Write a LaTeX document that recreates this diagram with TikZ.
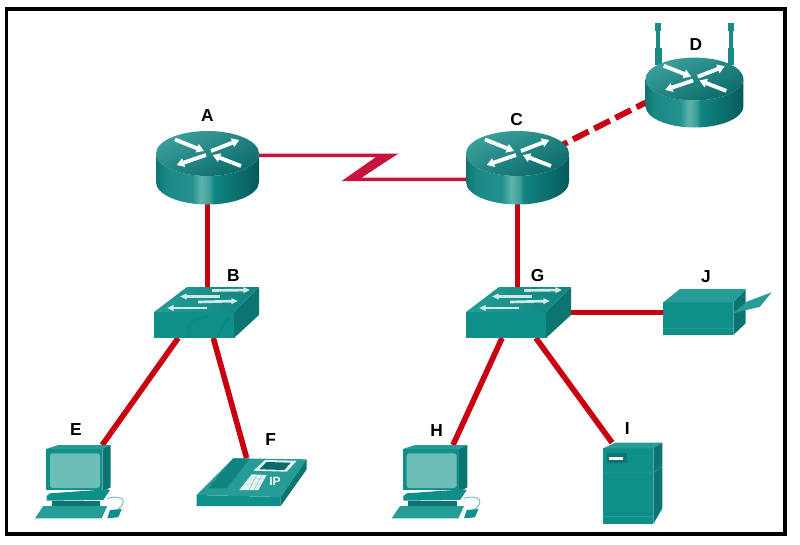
\documentclass[tikz,border=0pt]{standalone}
\usepackage{fontspec}
\setmainfont{Liberation Sans}
\usetikzlibrary{arrows.meta,fit,calc}
\definecolor{linkred}{HTML}{C80010}
\definecolor{serialred}{HTML}{C8143C}
\definecolor{tealA}{HTML}{0E7471}
\definecolor{tealB}{HTML}{1A8A86}
\definecolor{tealC}{HTML}{23918D}
\definecolor{tealHi}{HTML}{5DB3AD}
\definecolor{tealD}{HTML}{3CA09B}
\definecolor{tealE}{HTML}{108480}
\definecolor{tealF}{HTML}{0A6A68}
\definecolor{tealG}{HTML}{065A59}
\definecolor{front}{HTML}{0F8F89}
\definecolor{topface}{HTML}{259C96}
\definecolor{sideface}{HTML}{0C7572}
\definecolor{screen}{HTML}{6DBDB8}
\pgfdeclarehorizontalshading{routerside}{100bp}{color(0bp)=(tealA); color(25bp)=(tealA); color(30bp)=(tealB); color(42.5bp)=(tealC); color(47bp)=(tealHi); color(51bp)=(tealD); color(53bp)=(tealE); color(67.5bp)=(tealF); color(75bp)=(tealG); color(100bp)=(tealG)}
\tikzset{
  devbox/.style={inner sep=0pt,outer sep=0pt},
  lbl/.style={font=\bfseries\fontsize{13}{13}\selectfont,text=black,inner sep=0pt},
  lan/.style={draw=linkred,line width=4.2pt},
  wan/.style={fill=serialred},
  wifi/.style={draw=linkred,line width=4.4pt,dash pattern=on 13.1pt off 4.7pt,dash phase=6.7pt},
  wht/.style={draw=white,line width=2.9pt,-{Triangle[length=5.5pt,width=6.5pt]}},
  wht thin/.style={draw=white!82!teal,line width=2pt,-{Triangle[length=5pt,width=4.2pt]}},
  netrouter/.pic={
    \path[shading=routerside] (-51.5,0) -- (-51.5,28.5) arc[start angle=180,end angle=0,x radius=51.5,y radius=22.5] -- (51.5,0) arc[start angle=0,end angle=180,x radius=51.5,y radius=22.5] -- cycle;
    \shade[top color=tealD,bottom color=tealF,shading angle=25] (0,0) ellipse[x radius=51.5,y radius=22.5];
    \draw[wht] (-32.5,-14) -- (-3.5,-2.5);
    \draw[wht] (3.5,-2.5) -- (31.8,-13.5);
    \draw[wht] (-1.5,1.5) -- (-30.8,11.5);
    \draw[wht] (33.5,12.5) -- (5.2,1.5);
  },
  netswitch/.pic={
    \fill[front] (154,312) rectangle (234,338);
    \shade[left color=topface,right color=tealE] (154,312) -- (187,287) -- (259,287) -- (234,312) -- cycle;
    \fill[sideface] (234,312) -- (259,287) -- (259,315) -- (234,338) -- cycle;
    \draw[wht thin] (212,290.5) -- (250,290);
    \draw[wht thin] (220,296.5) -- (180,296.5);
    \draw[wht thin] (198,302) -- (238,301);
    \draw[wht thin] (207,308) -- (167,308);
  },
  netpc/.pic={
    \fill[front] (46,449) rectangle (102.3,490);
    \fill[topface] (46,449) -- (58.3,445) -- (110.7,445) -- (102.3,449) -- cycle;
    \fill[sideface] (102.3,449) -- (110.7,445) -- (110.7,487.3) -- (102.3,491.7) -- cycle;
    \fill[screen,rounded corners=2pt] (50,453.3) rectangle (100,488);
    \fill[front] (46.7,496) -- (50,493.3) -- (107.3,489.3) -- (110,490) -- (103.3,500) -- (46.7,500.7) -- cycle;
    \fill[sideface] (51.7,500.7) rectangle (100,506);
    \fill[topface] (43.3,506) -- (107.3,506) -- (101.7,518.3) -- (35,518.3) -- cycle;
    \fill[front] (110,510) -- (121.7,509) -- (118.3,517.3) -- (107.3,518.3) -- cycle;
    \draw[screen,line width=.7pt] (107,498.3) .. controls (125,494) and (127,503) .. (118,509);
  },
  netphone/.pic={
    \fill[front] (196.7,495) -- (280.7,497) -- (280.7,506) -- (196.7,506) -- cycle;
    \fill[topface] (196.7,495) -- (233.3,458.3) -- (306.7,459.3) -- (280.7,497) -- cycle;
    \fill[sideface] (280.7,497) -- (306.7,459.3) -- (306.7,469.3) -- (280.7,506) -- cycle;
    \fill[tealE] (208.3,488.3) -- (233.3,458.3) -- (250,458.3) -- (226.7,488.3) -- cycle;
    \fill[white!90!teal] (253.3,470.7) -- (265,460) -- (296.7,460.7) -- (286.7,471.7) -- cycle;
    \fill[tealF] (259.3,469.3) -- (266.7,462) -- (290.7,462.7) -- (284.3,470) -- cycle;
    \fill[white!90!teal] (239.3,490) -- (251.7,474.3) -- (266.7,475) -- (258.3,490) -- cycle;
    \draw[topface!60!white,line width=.3pt] (244,484) -- (262,484) (248,479) -- (264,479) (249,490) -- (257,474.5) (254,490) -- (262,474.5);
  },
  netserver/.pic={
    \fill[front] (603.3,448.3) rectangle (653.3,524);
    \fill[topface] (603.3,448.3) -- (615,442.7) -- (662.3,442.7) -- (653.3,448.3) -- cycle;
    \fill[sideface] (653.3,448.3) -- (662.3,442.7) -- (662.3,508.3) -- (653.3,524) -- cycle;
    \draw[topface,line width=.5pt] (603.3,473) -- (653.3,473) -- (662.3,466);
    \draw[topface,line width=.5pt] (603.3,516.7) -- (653.3,516.7);
    \fill[sideface] (606.7,453.3) rectangle (626.7,463.3);
    \fill[white] (609.3,457.3) rectangle (623.3,460);
  },
  netprinter/.pic={
    \fill[sideface] (733.3,302.3) -- (745.7,289) -- (745.7,323.3) -- (733.3,335) -- cycle;
    \fill[topface] (733.3,313.3) -- (746.7,301.7) -- (771.7,292.3) -- (760,306.7) -- cycle;
    \fill[front] (663.3,302.3) rectangle (733.3,335);
    \fill[topface] (663.3,302.3) -- (680,289) -- (745.7,289) -- (733.3,302.3) -- cycle;
    \draw[topface,line width=.5pt] (663.3,328) -- (733.3,328);
  },
  antenna/.pic={
    \fill[tealB] (-2,0) rectangle (2,42);
    \fill[tealB] (-3,0) rectangle (3,8);
    \fill[tealB] (-3.3,25) rectangle (3.3,42);
  }
}
\begin{document}
\begin{tikzpicture}[x=0.75pt,y=-0.75pt]
\useasboundingbox (0,0) rectangle (800,544);
\fill[white] (0,0) rectangle (800,544);
\draw[black,line width=2.5pt] (6.8,9) rectangle (785,534);

% device extents
\node[devbox,fit={(156,131)(259,204)}] (A) {};
\node[devbox,fit={(154,287)(259,338)}] (B) {};
\node[devbox,fit={(466,131)(569,204)}] (C) {};
\node[devbox,fit={(646,58)(743,128)}] (D) {};
\node[devbox,fit={(35,445)(122,518)}] (E) {};
\node[devbox,fit={(196.7,458)(306.7,506)}] (F) {};
\node[devbox,fit={(466,287)(570,338)}] (G) {};
\node[devbox,fit={(391.7,445)(478.7,518)}] (H) {};
\node[devbox,fit={(603.3,442.7)(662.3,524)}] (I) {};
\node[devbox,fit={(663.3,289)(771.7,335)}] (J) {};
\coordinate (tipA) at (398.3,153.6);
\coordinate (tipAi) at (361.7,177.6);
\coordinate (tipB) at (341.7,181);
\coordinate (tipBi) at (376,157);

% connectors
\draw[lan] (A.south) -- (A.south |- B.north);
\draw[lan] (C.south) -- (C.south |- G.north);
\draw[lan] (B.222) -- (E.57);
\draw[lan] (B.-75) -- (F.102);
\draw[lan] (G.-122) -- (H.64);
\draw[lan] (G.-55) -- (I.117);
\draw[lan] (G.east) -- (G.east -| J.west);
\fill[wan] (A.east |- tipA) -- (tipA) -- (tipAi) -- (C.west |- tipAi) -- (C.west |- tipB) -- (tipB) -- (tipBi) -- (A.east |- tipBi) -- cycle;
\draw[wifi] (C.center) -- (D.191);

% devices
\pic (routerA) at (207.5,153.5) {netrouter};
\pic (routerC) at (517.5,153.5) {netrouter};
\pic (antL) at (658.3,23.3) {antenna};
\pic (antR) at (731,23.3) {antenna};
\pic[scale=.951] (routerD) at (694.5,79) {netrouter};
\pic (switchB) at (0,0) {netswitch};
\pic (switchG) at (312,0) {netswitch};
\pic (pcE) at (0,0) {netpc};
\pic (pcH) at (356.7,0) {netpc};
\pic (phoneF) at (0,0) {netphone};
\pic (serverI) at (0,0) {netserver};
\pic (printerJ) at (0,0) {netprinter};
\draw[tealE,line width=2.5pt,opacity=.6] (190,338) .. controls (186,325) and (192,318) .. (208,316);
\draw[tealE,line width=2.5pt,opacity=.6] (218,338) .. controls (220,328) and (224,322) .. (230,318);
\node[font=\bfseries\fontsize{9}{9}\selectfont,text=white,inner sep=0pt] (ipF) at (275,481.5) {IP};

% labels
\node[lbl] (lA) at (207.3,115.7) {A};
\node[lbl] (lB) at (233.3,276) {B};
\node[lbl] (lC) at (516.7,120) {C};
\node[lbl] (lD) at (696,44.3) {D};
\node[lbl] (lE) at (76,429.3) {E};
\node[lbl] (lF) at (270.7,439.3) {F};
\node[lbl] (lG) at (537.7,275.7) {G};
\node[lbl] (lH) at (436.7,430.7) {H};
\node[lbl] (lI) at (627.3,429) {I};
\node[lbl] (lJ) at (706,276.7) {J};
\end{tikzpicture}
\end{document}
